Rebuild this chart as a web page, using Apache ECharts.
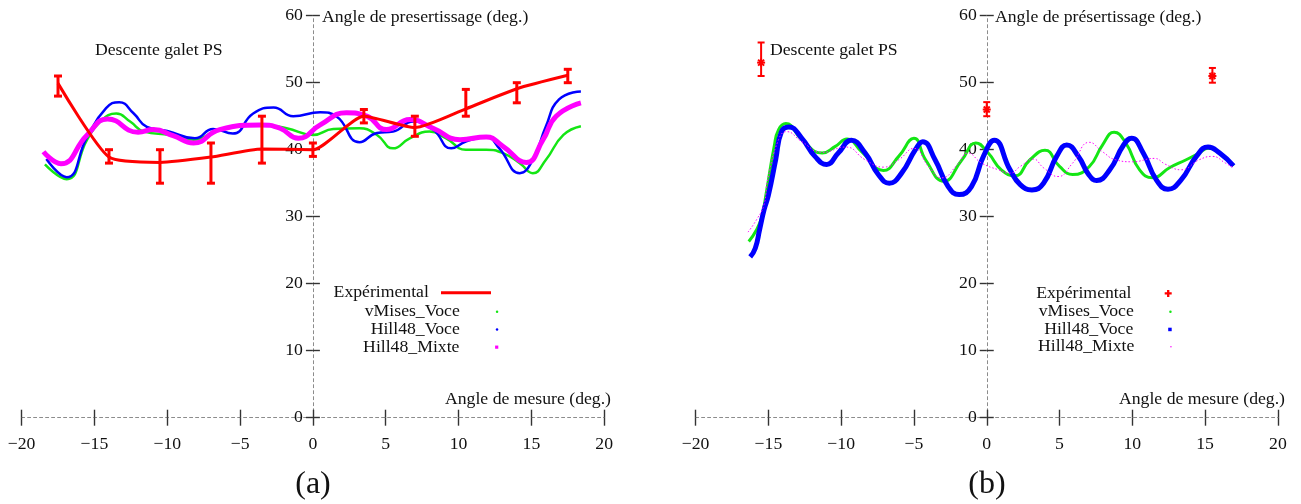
<!DOCTYPE html>
<html><head><meta charset="utf-8">
<script src="https://cdn.jsdelivr.net/npm/echarts@6/dist/echarts.min.js"></script>
<style>html,body{margin:0;padding:0;background:#fff}#c{width:1301px;height:504px}</style>
</head><body><div id="c"></div>
<script>
// ---------- data (a) ----------
const expA_x  = [-17.5, -14, -10.5, -7, -3.5, 0, 3.5, 7, 10.5, 14, 17.5];
const expA_y  = [49.9, 38.9, 38.1, 38.9, 40.1, 40.0, 45.0, 43.3, 46.1, 49.1, 51.1];
const expA_lo = [48, 38, 35, 35, 38, 39, 44, 42, 45, 47, 50];
const expA_hi = [51, 40, 40, 41, 45, 41, 46, 45, 49, 50, 52];

const vmA_x = [-18.4,-16.9,-15.5,-14.6,-13.5,-12.55,-11.6,-9.8,-8.2,-6.4,-3.6,-1.8,0,1.4,3.2,4.4,5.5,6.65,8.0,9.15,10.5,11.9,13.05,14.2,15.1,16.0,17.2,18.4];
const vmA_y = [37.8,35.6,41.5,44.2,45.4,44.2,42.7,42.2,41.5,43.0,43.7,43.2,42.2,43.1,43.2,42.2,40.2,41.7,42.7,41.7,40.0,40.0,39.5,38.0,36.5,38.5,42.2,43.5];

const hvA_x = [-18.3,-16.9,-15.5,-14.2,-13.3,-12.3,-11.4,-10.0,-8.1,-6.85,-5.5,-4.1,-2.7,-1.35,0.5,1.6,3.2,4.4,5.5,6.9,8.25,9.5,10.5,11.9,12.8,14.2,15.1,16.0,16.9,18.4];
const hvA_y = [38.6,35.9,41.9,46.2,47.1,45.4,43.4,42.8,41.7,43.1,42.4,45.4,46.3,45.0,45.6,45.0,41.1,42.5,42.7,44.2,43.0,40.2,41.2,41.9,40.2,36.5,38.5,43.5,47.5,48.7];

const hmA_x = [-18.5,-17.3,-15.5,-14.1,-12.0,-10.95,-9.6,-8.2,-6.4,-3.6,-2.26,-1.0,0.5,2.3,3.7,5.05,6.65,8.25,10.1,11.9,13.05,14.65,15.8,16.7,18.4];
const hmA_y = [39.7,37.9,42.2,44.6,42.6,43.0,42.1,41.0,43.0,43.7,43.2,41.7,43.7,45.5,45.0,43.0,44.5,43.2,41.5,41.9,40.5,38.1,41.5,45.0,47.0];

// ---------- data (b) ----------
const expB_x  = [-15.5, 0, 15.5];
const expB_y  = [53.0, 46.0, 51.0];
const expB_lo = [51.0, 45.0, 50.0];
const expB_hi = [56.0, 47.1, 52.2];

const vmB_x = [-16.35,-15.8,-15.45,-15.15,-14.6,-14.3,-13.8,-12.7,-11.3,-10.4,-9.6,-8.6,-7.1,-6.05,-5.0,-4.2,-2.95,-1.7,-0.75,0.1,1.0,1.94,2.97,4.0,5.0,5.9,7.05,7.95,8.75,9.55,10.5,11.4,12.55,13.7,14.6,15.2,16.0,16.95];
const vmB_y = [26.3,28.1,30.0,33.5,40.5,43.0,43.9,41.5,39.5,40.5,41.6,39.7,36.9,39.0,41.7,38.5,35.3,38.5,41.0,39.5,37.0,36.1,38.5,39.9,37.5,36.3,37.5,40.7,42.6,41.0,37.0,35.8,37.3,38.5,39.5,40.2,39.5,37.6];

const hvB_x = [-16.25,-15.9,-15.6,-15.3,-15.0,-14.5,-14.1,-13.6,-12.7,-11.8,-11.0,-10.2,-9.3,-8.35,-7.45,-6.7,-5.85,-4.9,-4.4,-3.55,-2.65,-1.9,-1.05,-0.23,0.52,1.6,2.3,3.1,3.9,4.8,5.5,6.3,7.0,7.55,8.45,9.4,9.95,10.75,11.65,12.45,13.35,14.4,15.2,16.0,16.95];
const hvB_y = [24.0,25.3,28.1,31.0,33.2,38.5,42.7,43.4,41.7,39.0,37.8,39.5,41.4,39.5,36.3,35.0,36.5,40.0,41.2,38.5,34.5,33.3,34.5,39.0,41.4,37.0,34.8,34.0,35.0,39.0,40.7,39.0,36.3,35.4,37.0,40.7,41.7,39.5,35.5,34.1,35.5,39.0,40.4,39.5,37.6];

const hmB_x = [-16.4,-15.8,-15.3,-15.05,-14.3,-13.75,-12.7,-11.3,-9.7,-8.35,-7.1,-6.05,-5.0,-4.0,-3.1,-2.0,-1.3,-0.35,0.8,1.6,2.3,3.2,3.9,4.9,5.9,7.05,7.95,8.85,10.0,11.5,12.3,13.35,14.6,15.5,16.4,16.95];
const hmB_y = [27.7,29.6,31.8,35.5,41.5,42.7,41.2,39.6,40.4,38.5,37.4,38.5,40.2,37.5,35.8,37.8,39.5,38.0,37.0,36.5,37.5,38.6,37.3,36.0,38.0,41.1,39.7,38.5,38.2,38.7,37.8,37.0,38.5,39.0,38.0,37.3];

// ---------- axes ticks ----------
const xTickMin = -20, xTickMax = 20, xTickStep = 5;
const yTickMin = 0, yTickMax = 60, yTickStep = 10;

// ---------- styling ----------
const SERIF = '"Liberation Serif", "DejaVu Serif", serif';
const FS = 17.7;
const RED = '#ff0000', GREEN = '#14e614', BLUE = '#0000ff', MAG = '#ff00ff';
const pairs = (xs, ys) => xs.map((x, i) => [x, ys[i]]);
const minusFmt = v => (v < 0 ? '\u2212' + (-v) : String(v));

const GRIDS = [
  { left: 21.6, top: 15.7, width: 582.6, height: 402 },
  { left: 695.6, top: 15.7, width: 582.3, height: 402 }
];
const TICK = { color: '#333', width: 1.4 };

function xAxes(gi) {
  const g = GRIDS[gi];
  const base = { gridIndex: gi, type: 'value', min: xTickMin, max: xTickMax, interval: xTickStep, splitLine: { show: false } };
  return [
    Object.assign({}, base, {
      position: 'bottom', offset: 0,
      axisLine: { show: true, onZero: false, lineStyle: { color: '#8c8c8c', width: 1, type: [3, 3] } },
      axisTick: { show: true, length: 8, lineStyle: TICK },
      axisLabel: { margin: 18, fontFamily: SERIF, fontSize: FS, color: '#111', formatter: minusFmt }
    }),
    Object.assign({}, base, {
      position: 'top', offset: -g.height,
      axisLine: { show: false, onZero: false },
      axisTick: { show: true, length: 8, lineStyle: TICK },
      axisLabel: { show: false }
    })
  ];
}
function yAxes(gi) {
  const g = GRIDS[gi];
  const half = g.width / 2;
  const base = { gridIndex: gi, type: 'value', min: yTickMin, max: yTickMax, interval: yTickStep, splitLine: { show: false } };
  return [
    Object.assign({}, base, {
      position: 'left', offset: -half,
      axisLine: { show: true, onZero: false, lineStyle: { color: '#8c8c8c', width: 1, type: [3, 3] } },
      axisTick: { show: true, length: 7, lineStyle: TICK },
      axisLabel: { margin: 10, fontFamily: SERIF, fontSize: FS, color: '#111' }
    }),
    Object.assign({}, base, {
      position: 'right', offset: -half,
      axisLine: { show: false, onZero: false },
      axisTick: { show: true, length: 7, lineStyle: TICK },
      axisLabel: { show: false }
    })
  ];
}

function errRender(withStar, cap, lw) {
  return function (params, api) {
    const x = api.value(0), lo = api.value(1), hi = api.value(2);
    const a = api.coord([x, lo]), b = api.coord([x, hi]);
    const st = { stroke: RED, lineWidth: lw };
    const ch = [
      { type: 'line', shape: { x1: a[0], y1: a[1], x2: b[0], y2: b[1] }, style: st },
      { type: 'line', shape: { x1: a[0] - cap, y1: a[1], x2: a[0] + cap, y2: a[1] }, style: st },
      { type: 'line', shape: { x1: b[0] - cap, y1: b[1], x2: b[0] + cap, y2: b[1] }, style: st }
    ];
    if (withStar) {
      const p = api.coord([x, api.value(3)]);
      const r = 4, d = 3;
      const s2 = { stroke: RED, lineWidth: 2 };
      ch.push({ type: 'line', shape: { x1: p[0] - r, y1: p[1], x2: p[0] + r, y2: p[1] }, style: s2 });
      ch.push({ type: 'line', shape: { x1: p[0], y1: p[1] - r, x2: p[0], y2: p[1] + r }, style: s2 });
      ch.push({ type: 'line', shape: { x1: p[0] - d, y1: p[1] - d, x2: p[0] + d, y2: p[1] + d }, style: s2 });
      ch.push({ type: 'line', shape: { x1: p[0] - d, y1: p[1] + d, x2: p[0] + d, y2: p[1] - d }, style: s2 });
    }
    return { type: 'group', children: ch };
  };
}

function mkLegend(name, label, icon, w, h, color, iconStart, cy, padRight) {
  return {
    data: [{ name: name, icon: icon }], orient: 'horizontal', align: 'right', selectedMode: false, padding: 0,
    itemWidth: w, itemHeight: h, right: 1301 - (iconStart + w), top: cy - FS / 2,
    formatter: function () { return label; },
    itemStyle: { color: color, borderWidth: 0 },
    textStyle: { fontFamily: SERIF, fontSize: FS, color: '#111', padding: [0, padRight, 0, 0] }
  };
}

function txt(x, y, text, align, size) {
  return { type: 'text', x: x, y: y, silent: true,
    style: { text: text, fontFamily: SERIF, fontSize: size || FS, fill: '#111',
      align: align || 'left', verticalAlign: 'middle', textAlign: align || 'left', textVerticalAlign: 'middle' } };
}

const lineIcon = 'path://M0,0H50V3H0Z';
const plusIcon = 'path://M2,0H4V2H6V4H4V6H2V4H0V2H2Z';
const squareIcon = 'path://M0,0H10V10H0Z';

const option = {
  animation: false,
  backgroundColor: '#ffffff',
  grid: GRIDS.map(g => Object.assign({ outerBoundsMode: 'none', containLabel: false }, g)),
  xAxis: xAxes(0).concat(xAxes(1)),
  yAxis: yAxes(0).concat(yAxes(1)),
  legend: [
    mkLegend('Expérimental', 'Expérimental', lineIcon, 50.3, 3, RED, 440.7, 292.5, 7),
    mkLegend('vMises_Voce', 'vMises_Voce', 'circle', 64.6, 2.5, GREEN, 433.7, 311.7, 0),
    mkLegend('Hill48_Voce', 'Hill48_Voce', 'circle', 64.6, 2.5, BLUE, 433.7, 329.3, 0),
    mkLegend('Hill48_Mixte', 'Hill48_Mixte', squareIcon, 64.6, 3.2, MAG, 433.7, 347, 0),
    mkLegend('Expérimental', 'Expérimental', plusIcon, 63.4, 7, RED, 1108.3, 293.3, 0),
    mkLegend('vMises_Voce', 'vMises_Voce', 'circle', 63.4, 2.5, GREEN, 1108.3, 311.7, 0),
    mkLegend('Hill48_Voce', 'Hill48_Voce', squareIcon, 63.4, 3.5, BLUE, 1108.3, 329.3, 0),
    mkLegend('Hill48_Mixte', 'Hill48_Mixte', 'circle', 63.4, 1.5, MAG, 1108.3, 346.7, 0)
  ],
  graphic: [
    txt(322, 17, 'Angle de presertissage (deg.)'),
    txt(995, 17, 'Angle de présertissage (deg.)'),
    txt(95, 50, 'Descente galet PS'),
    txt(770, 50, 'Descente galet PS'),
    txt(611, 399, 'Angle de mesure (deg.)', 'right'),
    txt(1285, 399, 'Angle de mesure (deg.)', 'right'),
    txt(313, 485, '(a)', 'center', 32),
    txt(987, 485, '(b)', 'center', 32)
  ],
  series: [
    // panel (a)
    { name: 'vMises_Voce', type: 'line', xAxisIndex: 0, yAxisIndex: 0, smooth: 0.5, symbol: 'none', z: 3,
      data: pairs(vmA_x, vmA_y), lineStyle: { color: GREEN, width: 2.5 }, itemStyle: { color: GREEN } },
    { name: 'Hill48_Voce', type: 'line', xAxisIndex: 0, yAxisIndex: 0, smooth: 0.5, symbol: 'none', z: 4,
      data: pairs(hvA_x, hvA_y), lineStyle: { color: BLUE, width: 2.5 }, itemStyle: { color: BLUE } },
    { name: 'Hill48_Mixte', type: 'line', xAxisIndex: 0, yAxisIndex: 0, smooth: 0.5, symbol: 'none', z: 5,
      data: pairs(hmA_x, hmA_y), lineStyle: { color: MAG, width: 5 }, itemStyle: { color: MAG } },
    { name: 'Expérimental', type: 'line', xAxisIndex: 0, yAxisIndex: 0, smooth: 0.2, symbol: 'none', z: 6,
      data: pairs(expA_x, expA_y), lineStyle: { color: RED, width: 3 }, itemStyle: { color: RED } },
    { name: 'errA', type: 'custom', xAxisIndex: 0, yAxisIndex: 0, z: 6,
      renderItem: errRender(false, 4, 3), encode: { x: 0, y: [1, 2] },
      data: expA_x.map((x, i) => [x, expA_lo[i], expA_hi[i]]), itemStyle: { color: RED } },
    // panel (b)
    { name: 'Expérimental', type: 'custom', xAxisIndex: 2, yAxisIndex: 2, z: 2,
      renderItem: errRender(true, 3.5, 2), encode: { x: 0, y: [1, 2] },
      data: expB_x.map((x, i) => [x, expB_lo[i], expB_hi[i], expB_y[i]]), itemStyle: { color: RED } },
    { name: 'vMises_Voce', type: 'line', xAxisIndex: 2, yAxisIndex: 2, smooth: 0.5, symbol: 'none', z: 3,
      data: pairs(vmB_x, vmB_y), lineStyle: { color: GREEN, width: 3 }, itemStyle: { color: GREEN } },
    { name: 'Hill48_Voce', type: 'line', xAxisIndex: 2, yAxisIndex: 2, smooth: 0.5, symbol: 'none', z: 4,
      data: pairs(hvB_x, hvB_y), lineStyle: { color: BLUE, width: 5 }, itemStyle: { color: BLUE } },
    { name: 'Hill48_Mixte', type: 'line', xAxisIndex: 2, yAxisIndex: 2, smooth: 0.5, symbol: 'none', z: 5,
      data: pairs(hmB_x, hmB_y), lineStyle: { color: MAG, width: 1, type: [1.5, 2] }, itemStyle: { color: MAG } }
  ]
};
const chart = echarts.init(document.getElementById('c'), null, { renderer: 'canvas' });
chart.setOption(option);
</script>
</body></html>
